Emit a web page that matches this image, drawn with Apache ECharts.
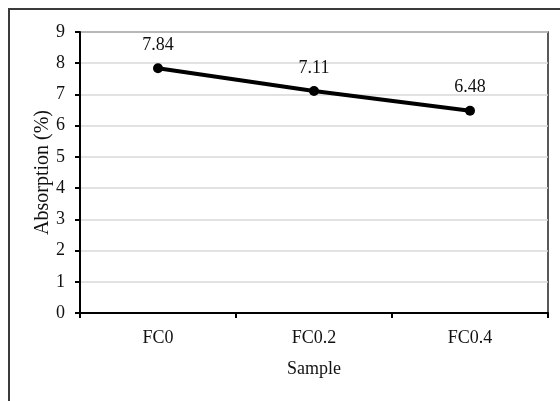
<!DOCTYPE html>
<html><head><meta charset="utf-8">
<script src="https://cdn.jsdelivr.net/npm/echarts@6/dist/echarts.min.js"></script>
<style>html,body{margin:0;padding:0;background:#fff}#c{width:560px;height:401px}</style>
</head><body><div id="c"></div>
<script>
const categories = ['FC0', 'FC0.2', 'FC0.4'];
const absorption = [7.84, 7.11, 6.48];
const yTicks = [0, 1, 2, 3, 4, 5, 6, 7, 8, 9];

const font = 'Liberation Serif';
const chart = echarts.init(document.getElementById('c'), null, {renderer: 'canvas'});
chart.setOption({
  animation: false,
  backgroundColor: '#fff',
  graphic: [{
    type: 'rect', shape: {x: 9, y: 9, width: 700, height: 600},
    style: {fill: 'none', stroke: '#3a3a3a', lineWidth: 2}, z: -1
  }],
  grid: {left: 80, top: 32, right: 12, bottom: 88, show: true, borderColor: '#222', borderWidth: 1.5, backgroundColor: 'transparent'},
  xAxis: {
    type: 'category', data: categories, boundaryGap: true,
    name: 'Sample', nameLocation: 'middle', nameGap: 47,
    nameTextStyle: {fontFamily: font, fontSize: 18, color: '#111'},
    axisLine: {lineStyle: {color: '#000', width: 2}},
    axisTick: {show: true, alignWithLabel: false, length: 5, lineStyle: {color: '#000', width: 2}},
    axisLabel: {fontFamily: font, fontSize: 18, color: '#111', margin: 16}
  },
  yAxis: {
    type: 'value', min: yTicks[0], max: yTicks[yTicks.length - 1], interval: 1,
    name: 'Absorption (%)', nameLocation: 'middle', nameGap: 27, nameMoveOverlap: false,
    nameTextStyle: {fontFamily: font, fontSize: 20, color: '#111'},
    axisLine: {show: true, lineStyle: {color: '#000', width: 2}},
    axisTick: {show: true, length: 5, lineStyle: {color: '#000', width: 2}},
    axisLabel: {fontFamily: font, fontSize: 18, color: '#111', margin: 15},
    splitLine: {lineStyle: {color: '#d9d9d9', width: 1.5}}
  },
  series: [{
    type: 'line', data: absorption,
    symbol: 'circle', symbolSize: 10,
    lineStyle: {color: '#000', width: 4},
    itemStyle: {color: '#000'},
    label: {show: true, position: 'top', distance: 9, fontFamily: font, fontSize: 18, color: '#111',
      formatter: p => p.value.toFixed(2)}
  }]
});
</script></body></html>
